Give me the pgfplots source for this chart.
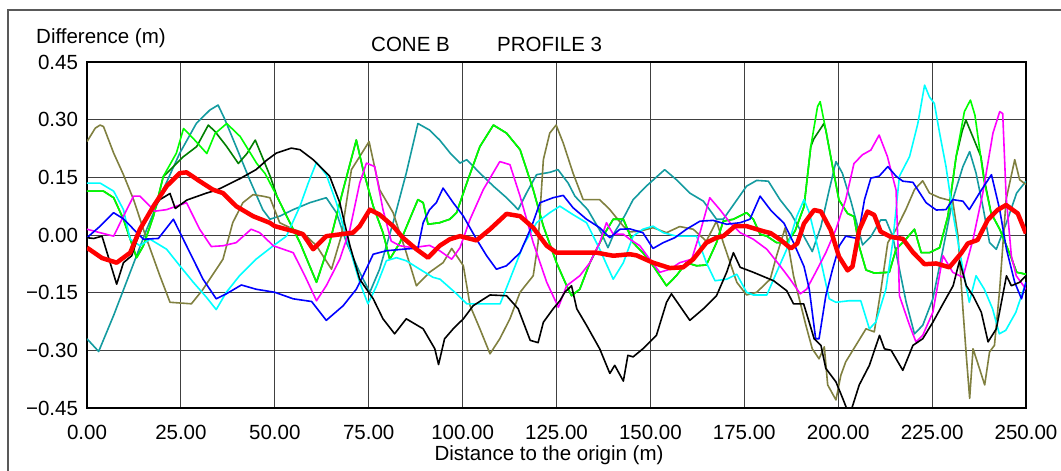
\documentclass[border=0pt]{standalone}
\usepackage{fontspec}
\setmainfont{Liberation Sans}
\usepackage{pgfplots}
\pgfplotsset{compat=1.18}
\definecolor{cteal}{RGB}{20,155,160}
\definecolor{colive}{RGB}{128,128,64}
\definecolor{cdgreen}{RGB}{0,128,0}
\definecolor{cgreen}{RGB}{0,255,0}
\definecolor{ccyan}{RGB}{0,255,255}
\definecolor{cmag}{RGB}{255,0,255}
\definecolor{cblue}{RGB}{0,0,255}
\definecolor{cred}{RGB}{255,0,0}
\begin{document}
\fontsize{20.5}{24}\selectfont
\begin{tikzpicture}[x=1pt,y=1pt]
\path[use as bounding box] (0,0) rectangle (1061,471);
\draw[black!65, line width=2pt] (8,0) -- (8,461) -- (1061,461);
\begin{axis}[
  at={(87pt,63pt)}, anchor=south west,
  scale only axis, width=939pt, height=346pt,
  xmin=0,xmax=250,ymin=-0.45,ymax=0.45,
  xtick={0,25,50,75,100,125,150,175,200,225,250},
  ytick={-0.45,-0.30,-0.15,0,0.15,0.30,0.45},
  xticklabels={0.00,25.00,50.00,75.00,100.00,125.00,150.00,175.00,200.00,225.00,250.00},
  yticklabels={−0.45,−0.30,−0.15,0.00,0.15,0.30,0.45},
  major tick length=0pt,
  grid=major,
  major grid style={black!75, line width=1pt},
  axis line style={black, line width=2.2pt},
  tick label style={font=\fontsize{20.5}{24}\selectfont},
  xticklabel style={yshift=-10pt},
  yticklabel style={xshift=-2pt},
  no markers,
  every axis plot/.append style={line width=1.6pt, line join=round},
]
% teal
\addplot[cteal] coordinates {(0,-0.270) (3.1,-0.303) (7.1,-0.209) (11.5,-0.097) (15.9,0.015) (20.3,0.118) (24.7,0.213) (29.1,0.290) (32.7,0.325) (34.9,0.338) (36.6,0.303) (39.7,0.230) (43.3,0.144) (46.8,0.066) (48.7,0.041) (51.3,0.049) (54.9,0.066) (59.3,0.084) (63.7,0.097) (66.4,0.058) (69.1,-0.020) (72.6,-0.097) (75.3,-0.149) (77.9,-0.089) (81.5,0.032) (85,0.161) (88.1,0.290) (91.2,0.273) (93.9,0.247) (96.7,0.213) (99.3,0.187) (101.1,0.196) (104.6,0.161) (108.2,0.127) (111.7,0.097) (114.8,0.066) (117,0.109) (119.7,0.157) (123.2,0.163) (125.4,0.170) (128.1,0.135) (129.9,0.101) (133.3,0.066) (136.9,0.006) (138.7,-0.033) (140.4,0.006) (143.1,0.049) (145.4,0.092) (148.9,0.127) (153.8,0.170) (156.9,0.144) (160.5,0.109) (164.1,0.088) (167.6,0.041) (169.4,0.041) (172.5,0.084) (175.6,0.127) (178.3,0.142) (181.4,0.140) (184.5,0.092) (187.4,0.056) (190.9,-0.004) (193.1,-0.043) (195.4,0.022) (197.6,0.117) (199.4,0.191) (201.1,0.161) (203.3,0.091) (206.5,-0.026) (208.7,-0.004) (211.3,0.039) (212.7,0.039) (214.5,-0.003) (216.3,-0.089) (218.1,-0.175) (220.3,-0.257) (222.5,-0.235) (225.2,-0.166) (227.9,-0.037) (230.5,0.092) (233.2,0.178) (235,0.217) (236.7,0.161) (238.5,0.075) (240.3,-0.020) (242.1,-0.037) (244.8,0.032) (247.5,0.109) (250,0.140)};
% olive
\addplot[colive] coordinates {(0,0.243) (2.2,0.278) (3.5,0.286) (4.4,0.282) (7.1,0.213) (9.7,0.157) (12.4,0.092) (15.9,-0.011) (19.4,-0.106) (22.1,-0.175) (27.8,-0.179) (30.9,-0.141) (36.2,-0.063) (38.8,0.032) (41.5,0.084) (44.2,0.105) (46.8,0.101) (48.7,0.097) (51.3,0.032) (54.9,0.015) (57.5,0.006) (61.1,-0.028) (65.1,-0.089) (67.7,-0.003) (70.4,0.170) (72.6,0.204) (75.1,0.243) (77.9,0.118) (81.5,0.058) (85,-0.046) (87.7,-0.132) (91.2,-0.097) (94.8,-0.072) (97.1,-0.035) (100.2,-0.080) (102,-0.184) (104.6,-0.244) (107.3,-0.309) (109.9,-0.270) (112.6,-0.218) (115.3,-0.149) (118.8,-0.106) (120.1,-0.020) (121.5,0.196) (123.2,0.265) (124.9,0.286) (126.8,0.239) (129.4,0.161) (132.1,0.092) (136.5,0.092) (139.2,0.066) (142.8,0.023) (144.5,0.008) (147.2,0.010) (150.7,0.019) (154.3,0.006) (157.8,0.022) (161.4,0.015) (164.9,-0.016) (167.6,0.036) (169.4,-0.020) (173,-0.123) (175.6,-0.156) (178.3,-0.149) (181.9,-0.115) (183.6,-0.054) (185.9,0.019) (188.1,-0.106) (190.3,-0.192) (191.4,-0.235) (193.1,-0.296) (194.9,-0.322) (196.3,-0.291) (197.2,-0.390) (199.4,-0.429) (200.7,-0.365) (202,-0.330) (204.7,-0.287) (207.4,-0.244) (209.6,-0.252) (211.4,-0.141) (213.2,-0.020) (215.4,0.015) (218,0.066) (220.3,0.118) (222.5,0.141) (224.3,0.109) (227,0.097) (230.5,0.088) (231.9,-0.003) (233.2,-0.192) (234.1,-0.313) (235,-0.425) (235.9,-0.296) (237.6,-0.347) (239,-0.390) (240.3,-0.304) (241.6,-0.287) (243,-0.141) (244.7,0.092) (247,0.196) (248.3,0.144) (250,0.131)};
% dark green
\addplot[cdgreen] coordinates {(0,0.114) (4.4,0.114) (7.1,0.097) (9.7,0.041) (13.2,-0.059) (15,-0.028) (17.7,0.049) (20.3,0.152) (22.1,0.169) (25.7,0.204) (29.2,0.230) (32.3,0.286) (34.1,0.269) (37.2,0.230) (40.3,0.186) (42.6,0.212) (44.8,0.247) (47,0.195) (48.8,0.152) (50.6,0.100) (53.2,0.048) (56.7,-0.020) (61.1,-0.123) (64.6,-0.020) (68.2,0.118) (71.7,0.247) (73.5,0.170) (76.2,0.075) (78.8,0.006) (80.6,-0.063) (83.3,-0.020) (85.9,0.041) (88.1,0.092) (89.5,0.084) (90.8,0.028) (93.9,0.032) (96.6,0.041) (98.4,0.058) (101.1,0.135) (104.6,0.230) (108.2,0.286) (111.7,0.265) (115.3,0.222) (118.8,0.118) (121.5,0.023) (125,-0.072) (127.7,-0.132) (129,-0.158) (131.2,-0.141) (133.9,-0.072) (137.4,-0.003) (140.1,0.041) (142.8,0.041) (145.4,-0.020) (148,-0.046) (150.7,-0.080) (154.3,-0.132) (156.9,-0.106) (159.6,-0.072) (162.3,-0.080) (164.9,-0.078) (167.6,-0.020) (169.4,0.036) (172.1,0.041) (175.6,0.058) (177.4,0.041) (179.2,0.002) (181,-0.003) (183.6,-0.020) (186.3,-0.020) (188.5,0.010) (190.9,0.074) (192.7,0.23) (193.5,0.25) (196.2,0.290) (196.7,0.273) (198.5,0.178) (200.2,0.091) (202.5,0.056) (204.2,0.048) (205.6,-0.030) (207.4,-0.091) (209.6,-0.099) (213.6,-0.097) (215.4,-0.037) (218,-0.011) (220.3,0.015) (222.1,-0.046) (224.3,-0.046) (227,-0.033) (229.2,0.049) (231.4,0.204) (233,0.27) (234,0.299) (236.2,0.247) (238,0.204) (238.8,0.150) (240.7,0.057) (243,0.015) (246,-0.057) (247.5,-0.097) (250,-0.102)};
% green
\addplot[cgreen] coordinates {(0,0.114) (4.4,0.114) (7.1,0.097) (9.7,0.041) (13.2,-0.059) (15,-0.028) (17.7,0.049) (20.3,0.152) (23.8,0.213) (25.7,0.277) (28.3,0.251) (31.9,0.212) (34.1,0.264) (37.2,0.290) (40.8,0.256) (45.2,0.186) (47.4,0.160) (50.6,0.100) (53.2,0.048) (56.7,-0.020) (61.1,-0.123) (64.6,-0.020) (68.2,0.118) (71.7,0.247) (73.5,0.170) (76.2,0.075) (78.8,0.006) (80.6,-0.063) (83.3,-0.020) (85.9,0.041) (88.1,0.092) (89.5,0.084) (90.8,0.028) (93.9,0.032) (96.6,0.041) (98.4,0.058) (101.1,0.135) (104.6,0.230) (108.2,0.286) (111.7,0.265) (115.3,0.222) (118.8,0.118) (121.5,0.023) (125,-0.072) (127.7,-0.132) (129,-0.158) (131.2,-0.141) (133.9,-0.072) (137.4,-0.003) (140.1,0.041) (142.8,0.041) (145.4,-0.020) (148,-0.046) (150.7,-0.080) (154.3,-0.132) (156.9,-0.106) (159.6,-0.072) (162.3,-0.080) (164.9,-0.078) (167.6,-0.020) (169.4,0.036) (172.1,0.041) (175.6,0.058) (177.4,0.041) (179.2,0.002) (181,-0.003) (183.6,-0.020) (186.3,-0.020) (188.5,0.010) (190.9,0.074) (192.7,0.23) (194.5,0.334) (195.2,0.347) (196.7,0.273) (198.5,0.178) (200.2,0.091) (202.5,0.056) (204.2,0.048) (205.6,-0.030) (207.4,-0.091) (209.6,-0.099) (213.6,-0.097) (215.4,-0.037) (218,-0.011) (220.3,0.015) (222.1,-0.046) (224.3,-0.046) (227,-0.033) (229.2,0.049) (231.4,0.204) (233.6,0.321) (235.2,0.351) (236.4,0.312) (238.8,0.143) (240.7,0.057) (243,0.015) (246,-0.057) (247.5,-0.097) (250,-0.102)};
% cyan
\addplot[ccyan] coordinates {(0,0.135) (3.5,0.135) (7.1,0.114) (9.7,0.066) (11.5,-0.011) (14.1,-0.028) (16.8,-0.011) (21.2,-0.037) (24.7,-0.080) (28.3,-0.123) (31.8,-0.162) (34.4,-0.194) (37.1,-0.149) (40.6,-0.106) (45,-0.063) (49.6,-0.028) (53.1,-0.003) (56.7,0.075) (58.9,0.135) (61.1,0.189) (63.7,0.157) (66.4,0.084) (70,-0.037) (72.6,-0.123) (74.8,-0.179) (77.1,-0.132) (79.7,-0.067) (82.4,-0.059) (85,-0.067) (88.6,-0.089) (92.1,-0.110) (94,-0.115) (98.4,-0.153) (101.1,-0.179) (110,-0.179) (112.6,-0.115) (116.1,-0.028) (119.7,0.032) (123.2,0.058) (125.9,0.075) (129.4,0.053) (133,0.032) (136.5,-0.037) (140.1,-0.115) (142.8,-0.072) (145.4,-0.003) (148,0.015) (150.7,0.023) (153.4,0.006) (157,-0.003) (162.3,-0.003) (164.9,-0.072) (167.2,-0.119) (170.3,-0.115) (173,-0.102) (175.6,-0.149) (177.4,-0.156) (181,-0.156) (183.6,-0.097) (186.3,-0.037) (189,0.049) (190.9,0.092) (192.3,0.058) (194.9,-0.046) (197.6,-0.166) (199.4,-0.175) (202.9,-0.171) (206,-0.171) (208.3,-0.244) (210,-0.227) (212.7,-0.141) (214.5,-0.020) (216.3,0.153) (219,0.204) (221.2,0.290) (223,0.390) (224.3,0.359) (225.6,0.342) (227,0.265) (228.7,0.178) (230.5,0.058) (233.2,-0.089) (234.9,-0.175) (236.7,-0.106) (238.9,-0.141) (241.1,-0.192) (242.9,-0.257) (244.6,-0.248) (247.3,-0.201) (250,-0.123)};
% magenta
\addplot[cmag] coordinates {(0,0.015) (3.5,0.006) (7.1,-0.003) (9.7,0.049) (12.4,0.101) (14.1,0.101) (18.1,0.062) (21.2,0.066) (23.8,0.075) (26.5,0.084) (30,0.015) (33.1,-0.030) (36.2,-0.028) (39.7,-0.020) (43.7,0.015) (46,0.006) (49.6,-0.028) (54.9,-0.046) (58,-0.106) (61.1,-0.171) (63.7,-0.132) (67.3,-0.063) (70,0.015) (72.6,0.135) (74.4,0.187) (76.6,0.178) (78.8,0.066) (81,-0.016) (83.3,-0.028) (86.8,-0.033) (91.2,-0.027) (93.9,-0.041) (97.1,-0.063) (99.3,-0.033) (102,0.041) (105.5,0.118) (109.9,0.191) (112.6,0.183) (115.3,0.101) (118.8,-0.020) (122.4,-0.123) (125.5,-0.188) (127.7,-0.132) (131.2,-0.106) (133.9,-0.072) (136.5,-0.020) (138.3,0.032) (140.1,0.002) (142.8,0.002) (144.5,-0.011) (147.2,-0.028) (149.8,-0.063) (152.5,-0.097) (155.2,-0.089) (157.8,-0.072) (161,-0.063) (163.2,0.006) (165.8,0.097) (168.5,0.066) (171.2,0.032) (173.9,0.006) (177.4,-0.011) (181,-0.037) (184.5,-0.080) (187.2,-0.115) (189.9,-0.153) (191.6,-0.141) (194,-0.097) (196.7,-0.046) (199.4,0.015) (202,0.092) (204.2,0.186) (206.5,0.209) (208.7,0.221) (210.9,0.260) (213.1,0.204) (215.4,0.117) (215.9,-0.020) (216.3,-0.158) (219,-0.235) (220.7,-0.278) (222.5,-0.261) (225.2,-0.201) (227.9,-0.054) (230.5,-0.097) (233.2,-0.110) (235.9,-0.011) (238.5,0.109) (241.2,0.265) (243,0.321) (243.8,0.316) (244.7,0.101) (246.1,-0.054) (247.4,-0.106) (250,-0.141)};
% blue
\addplot[cblue] coordinates {(0,-0.007) (3.5,0.023) (7.1,0.058) (9.7,0.042) (15,-0.011) (19,-0.009) (23,0.041) (27.4,-0.046) (30.9,-0.115) (34.4,-0.166) (37.1,-0.153) (41.1,-0.130) (45,-0.141) (50,-0.149) (54.9,-0.166) (59.8,-0.173) (63.7,-0.222) (68.2,-0.184) (71.7,-0.141) (73.5,-0.106) (76.2,-0.050) (79.7,-0.041) (84.1,-0.037) (88.1,-0.034) (89.5,0.032) (91.2,0.066) (93,0.084) (94.8,0.122) (97.5,0.084) (100.2,0.049) (103.7,-0.011) (106.4,-0.054) (109,-0.089) (111.7,-0.080) (115.3,-0.046) (118.4,0.023) (120.6,0.084) (124.1,0.097) (126.8,0.103) (129.4,0.071) (133,0.041) (136.5,0.019) (139.2,-0.007) (141.9,0.015) (144.5,0.016) (148,0.006) (150.7,-0.035) (153.4,-0.020) (156.5,-0.007) (159.6,0.015) (163.2,0.036) (166.7,0.038) (170.3,0.028) (173.9,0.032) (176.5,0.041) (179.2,0.101) (182,0.065) (185.6,0.030) (188.2,-0.022) (190.9,-0.082) (192.3,-0.141) (194,-0.270) (194.9,-0.270) (196.7,-0.158) (198.5,-0.089) (200.3,-0.028) (202,-0.003) (205.2,-0.009) (207,0.092) (208.7,0.148) (210.9,0.153) (213.2,0.178) (215.4,0.153) (217.2,0.140) (219.9,0.137) (223.4,0.084) (226.1,0.065) (228.7,0.066) (230.5,0.092) (233.2,0.088) (234.9,0.066) (237.6,0.109) (240.8,0.157) (243,0.066) (244.8,-0.037) (247,-0.123) (248.8,-0.166) (250,-0.123)};
% black
\addplot[black] coordinates {(0,-0.007) (1.8,-0.009) (4,-0.003) (7.9,-0.128) (9.7,-0.072) (11.9,-0.054) (13.2,-0.016) (15.9,0.049) (19.4,0.092) (22.1,0.108) (23.5,0.069) (26.6,0.091) (31.8,0.109) (34.6,0.117) (40.8,0.147) (45,0.170) (47.9,0.195) (50.4,0.213) (54.4,0.226) (56.7,0.222) (60.2,0.196) (64.6,0.153) (67.3,0.084) (70,-0.028) (72.6,-0.115) (76.2,-0.166) (78.8,-0.218) (81.9,-0.257) (85,-0.218) (89.5,-0.244) (92.6,-0.296) (93.6,-0.337) (95.2,-0.270) (97.5,-0.244) (100.2,-0.218) (102.8,-0.184) (107.3,-0.156) (111.7,-0.158) (114.8,-0.192) (118,-0.274) (120.1,-0.280) (121.5,-0.227) (124.1,-0.192) (125.9,-0.171) (127.2,-0.149) (129,-0.132) (130.4,-0.192) (133,-0.235) (136.5,-0.296) (139.2,-0.360) (140.5,-0.339) (142.8,-0.380) (144,-0.313) (145.4,-0.317) (148,-0.296) (151.6,-0.261) (154.3,-0.175) (155.6,-0.153) (157.8,-0.184) (160.5,-0.222) (164.1,-0.192) (167.6,-0.158) (170.3,-0.097) (172.1,-0.046) (173.9,-0.084) (177.4,-0.097) (182.8,-0.119) (186.3,-0.145) (188.1,-0.179) (190.8,-0.179) (193.6,-0.270) (195.4,-0.287) (196.7,-0.347) (199.4,-0.382) (201.2,-0.425) (203,-0.470) (205.6,-0.390) (208.3,-0.339) (211,-0.261) (212.3,-0.296) (214.1,-0.300) (217.2,-0.352) (219.9,-0.287) (222.5,-0.270) (225.2,-0.227) (227.9,-0.179) (230.6,-0.132) (232.3,-0.067) (234.1,-0.132) (235.9,-0.158) (238.1,-0.201) (239.9,-0.278) (242.1,-0.244) (244.8,-0.106) (246.1,-0.132) (248.3,-0.123) (250,-0.106)};
% red
\addplot[cred, line width=4.5pt] coordinates {(0,-0.033) (4,-0.060) (7.9,-0.072) (11.5,-0.046) (14.1,0.015) (17.7,0.075) (21.2,0.127) (24.7,0.161) (26.5,0.163) (30,0.14) (33.5,0.118) (36.2,0.109) (39.7,0.075) (44.2,0.049) (48.6,0.032) (50,0.023) (54.9,0.010) (57.5,0.002) (60.2,-0.037) (63.7,-0.003) (70.8,0.006) (72.6,0.023) (75.3,0.066) (77.9,0.053) (81.5,0.023) (84.1,-0.007) (87.7,-0.037) (90.8,-0.059) (93.9,-0.028) (96.6,-0.011) (99.3,-0.003) (103.7,-0.014) (107.3,0.015) (111.7,0.055) (115.3,0.049) (118.8,0.019) (122.4,-0.028) (125,-0.046) (131.2,-0.046) (135.7,-0.046) (140.1,-0.054) (144.5,-0.050) (146.3,-0.053) (150.7,-0.072) (155.2,-0.086) (158.7,-0.084) (161.4,-0.063) (164.9,-0.020) (167.6,-0.007) (169.4,-0.003) (172.5,0.023) (175.6,0.023) (180,0.010) (182,0.005) (184.7,-0.013) (187.4,-0.035) (189.1,-0.022) (190.9,0.030) (193.6,0.065) (195.4,0.061) (198,0.013) (200.2,-0.056) (202.5,-0.092) (203.8,-0.082) (205.6,0.013) (207.8,0.061) (209.6,0.052) (211.3,0.009) (214,-0.005) (217.2,-0.010) (219.9,-0.045) (223,-0.076) (226.1,-0.074) (229.6,-0.084) (232.7,-0.048) (234.5,-0.022) (237.1,-0.013) (239.8,0.039) (242.4,0.065) (244.7,0.078) (247.8,0.056) (250,0.004)};
\end{axis}
\node[anchor=base west, inner sep=0pt] at (36,427.7) {Difference (m)};
\node[anchor=base west, inner sep=0pt] at (371,419.5) {CONE B};
\node[anchor=base west, inner sep=0pt] at (497,419.5) {PROFILE 3};
\node[anchor=base, inner sep=0pt] at (549,10) {Distance to the origin (m)};
\end{tikzpicture}
\end{document}
